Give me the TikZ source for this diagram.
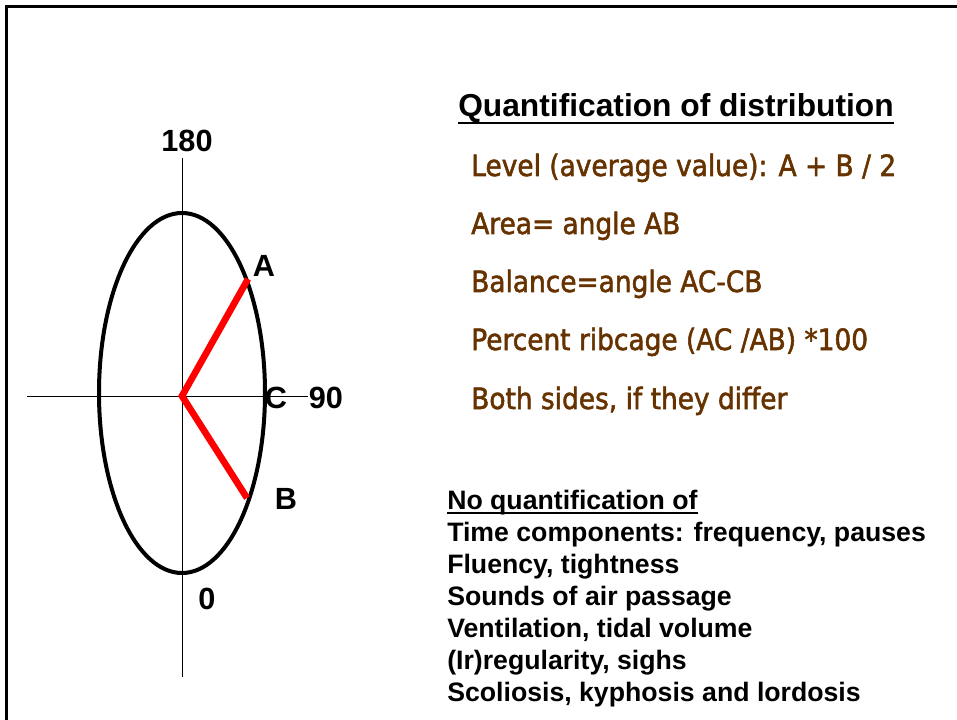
\documentclass[tikz,border=0pt]{standalone}
\usepackage{fontspec}
\setmainfont{Liberation Sans}
\newfontfamily\brownfont{DejaVu Sans}[FakeStretch=0.9,FakeBold=1.8]
\definecolor{brownish}{RGB}{102,51,0}
\begin{document}
\begin{tikzpicture}[x=0.75pt,y=-0.75pt,
  lbl/.style={font=\fontsize{23}{27}\selectfont\bfseries,inner sep=0,anchor=base},
  brownline/.style={font=\brownfont\fontsize{22}{26}\selectfont,text=brownish,inner sep=0,anchor=base west},
  listline/.style={font=\fontsize{20}{24}\selectfont\bfseries,inner sep=0,anchor=base west},
  axis/.style={line width=0.75pt,black},
  redline/.style={line width=5pt,red},
]
\useasboundingbox (0,0) rectangle (957,720);
% frame
\draw[line width=2.25pt] (6.5,725) -- (6.5,6.5) -- (965,6.5);
% axes
\coordinate (O) at (182,396);
\coordinate (axL) at (27,396);
\coordinate (axR) at (308,396);
\coordinate (axT) at (182,158);
\coordinate (axB) at (182,677);
\draw[axis] (axL) -- (axR);
\draw[axis] (axT) -- (axB);
% ellipse
\draw[line width=3pt] (182,393) ellipse [x radius=83, y radius=180];
% red lines
\coordinate (A) at (248,279);
\coordinate (B) at (247,498);
\draw[redline] (A) -- (O) -- (B);
% labels
\node[lbl] (l180) at (187,152) {180};
\node[lbl] (lA) at (264,277) {A};
\node[lbl] (lC) at (276,408) {C};
\node[lbl] (l90) at (326,408) {90};
\node[lbl] (lB) at (286,509) {B};
\node[lbl] (l0) at (207,609) {0};
% title
\node[font=\fontsize{23.8}{28}\selectfont\bfseries,inner sep=0,anchor=base west] (title) at (458,117) {Quantification of distribution};
\draw[line width=1.6pt] ([yshift=-4.5pt]title.base west) -- ([yshift=-4.5pt]title.base east);
% brown lines
\node[brownline] (b1) at (471,176) {Level (average value): A + B / 2};
\node[brownline] (b2) at (471,234) {Area= angle AB};
\node[brownline] (b3) at (471,292) {Balance=angle AC-CB};
\node[brownline] (b4) at (471,350) {Percent ribcage (AC /AB) *100};
\node[brownline] (b5) at (471,409) {Both sides, if they differ};
% black list
\node[listline] (n0) at (447,509) {No quantification of};
\draw[line width=1.4pt] ([yshift=-3pt]n0.base west) -- ([yshift=-3pt]n0.base east);
\node[listline] (n1) at (447,541) {Time components: frequency, pauses};
\node[listline] (n2) at (447,573) {Fluency, tightness};
\node[listline] (n3) at (447,605) {Sounds of air passage};
\node[listline] (n4) at (447,637) {Ventilation, tidal volume};
\node[listline] (n5) at (447,669) {(Ir)regularity, sighs};
\node[listline] (n6) at (447,701) {Scoliosis, kyphosis and lordosis};
\end{tikzpicture}
\end{document}
